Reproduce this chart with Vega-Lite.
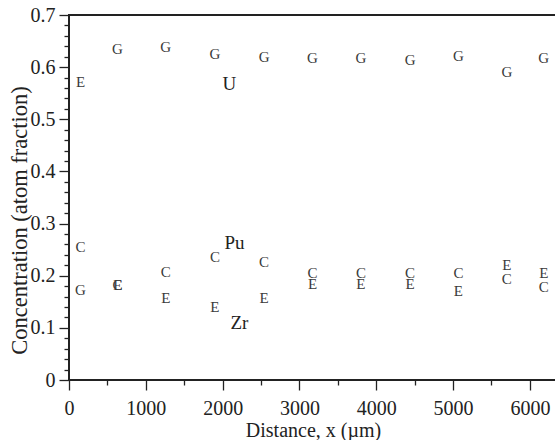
{
  "$schema": "https://vega.github.io/schema/vega-lite/v6.json",
  "width": 487,
  "height": 365,
  "autosize": {"type": "none"},
  "padding": {"left": 69, "top": 15, "right": 0, "bottom": 60},
  "background": "white",
  "config": {
    "view": {"stroke": "#222", "strokeWidth": 2},
    "font": "Liberation Serif",
    "text": {"font": "Liberation Serif"}
  },
  "datasets": {
    "pts": [
      {"x": 150, "y": 0.572, "m": "E"},
      {"x": 630, "y": 0.634, "m": "G"},
      {"x": 1260, "y": 0.638, "m": "G"},
      {"x": 1900, "y": 0.625, "m": "G"},
      {"x": 2540, "y": 0.620, "m": "G"},
      {"x": 3170, "y": 0.617, "m": "G"},
      {"x": 3800, "y": 0.617, "m": "G"},
      {"x": 4440, "y": 0.614, "m": "G"},
      {"x": 5070, "y": 0.621, "m": "G"},
      {"x": 5700, "y": 0.591, "m": "G"},
      {"x": 6180, "y": 0.617, "m": "G"},
      {"x": 150, "y": 0.2545, "m": "C"},
      {"x": 150, "y": 0.1726, "m": "G"},
      {"x": 630, "y": 0.1822, "m": "C"},
      {"x": 635, "y": 0.1822, "m": "E"},
      {"x": 1260, "y": 0.2077, "m": "C"},
      {"x": 1260, "y": 0.1578, "m": "E"},
      {"x": 1900, "y": 0.2365, "m": "C"},
      {"x": 1900, "y": 0.140, "m": "E"},
      {"x": 2540, "y": 0.2254, "m": "C"},
      {"x": 2540, "y": 0.1573, "m": "E"},
      {"x": 3170, "y": 0.2058, "m": "C"},
      {"x": 3170, "y": 0.1841, "m": "E"},
      {"x": 3800, "y": 0.2058, "m": "C"},
      {"x": 3800, "y": 0.1845, "m": "E"},
      {"x": 4440, "y": 0.2058, "m": "C"},
      {"x": 4440, "y": 0.1841, "m": "E"},
      {"x": 5070, "y": 0.2058, "m": "C"},
      {"x": 5070, "y": 0.1713, "m": "E"},
      {"x": 5700, "y": 0.2206, "m": "E"},
      {"x": 5700, "y": 0.1931, "m": "C"},
      {"x": 6180, "y": 0.2058, "m": "E"},
      {"x": 6180, "y": 0.1778, "m": "C"}
    ],
    "labels": [
      {"x": 2088, "y": 0.567, "label": "U"},
      {"x": 2154, "y": 0.2628, "label": "Pu"},
      {"x": 2219, "y": 0.1093, "label": "Zr"}
    ]
  },
  "resolve": {"axis": {"x": "independent", "y": "independent"}},
  "layer": [
    {
      "data": {"name": "labels"},
      "mark": {"type": "text", "fontSize": 19, "color": "#222"},
      "encoding": {
        "x": {
          "field": "x",
          "type": "quantitative",
          "scale": {"domain": [0, 6340], "nice": false, "zero": false},
          "axis": {
            "orient": "bottom",
            "title": null,
            "values": [500, 1500, 2500, 3500, 4500, 5500],
            "labels": false,
            "domain": false,
            "grid": false,
            "tickColor": "#222222",
            "tickWidth": 1.3,
            "tickSize": 5
          }
        },
        "y": {
          "field": "y",
          "type": "quantitative",
          "scale": {"domain": [0, 0.7], "nice": false, "zero": false},
          "axis": {
            "orient": "left",
            "title": null,
            "values": [0.02, 0.04, 0.06, 0.08, 0.12, 0.14, 0.16, 0.18, 0.22, 0.24, 0.26, 0.28, 0.32, 0.34, 0.36, 0.38, 0.42, 0.44, 0.46, 0.48, 0.52, 0.54, 0.56, 0.58, 0.62, 0.64, 0.66, 0.68],
            "labels": false,
            "domain": false,
            "grid": false,
            "tickColor": "#222222",
            "tickWidth": 1.3,
            "tickSize": 5
          }
        },
        "text": {"field": "label"}
      }
    },
    {
      "data": {"name": "pts"},
      "mark": {"type": "text", "fontSize": 15, "color": "#3a3a3a"},
      "encoding": {
        "x": {
          "field": "x",
          "type": "quantitative",
          "axis": {
            "orient": "bottom",
            "title": "Distance, x (µm)",
            "values": [0, 1000, 2000, 3000, 4000, 5000, 6000],
            "format": "d",
            "labelFlush": false,
            "grid": false,
            "domain": false,
            "tickColor": "#222222",
            "tickWidth": 1.3,
            "tickSize": 10,
            "labelFontSize": 20,
            "labelColor": "#222",
            "labelPadding": 8,
            "labelBaseline": "top",
            "titleFontSize": 20,
            "titleFontWeight": "normal",
            "titleColor": "#222",
            "titleX": 244,
            "titleY": 50,
            "titleBaseline": "middle",
            "titleAlign": "center"
          }
        },
        "y": {
          "field": "y",
          "type": "quantitative",
          "axis": {
            "orient": "left",
            "title": "Concentration (atom fraction)",
            "values": [0, 0.1, 0.2, 0.3, 0.4, 0.5, 0.6, 0.7],
            "format": ".1f",
            "labelExpr": "datum.value === 0 ? '0' : datum.label",
            "labelFlush": false,
            "grid": false,
            "domain": false,
            "tickColor": "#222222",
            "tickWidth": 1.3,
            "tickSize": 10,
            "labelFontSize": 20,
            "labelColor": "#222",
            "labelPadding": 4,
            "titleFontSize": 22.5,
            "titleFontWeight": "normal",
            "titleColor": "#222",
            "titleX": -50,
            "titleY": 205,
            "titleAngle": -90,
            "titleBaseline": "middle",
            "titleAlign": "center"
          }
        },
        "text": {"field": "m"}
      }
    }
  ]
}
